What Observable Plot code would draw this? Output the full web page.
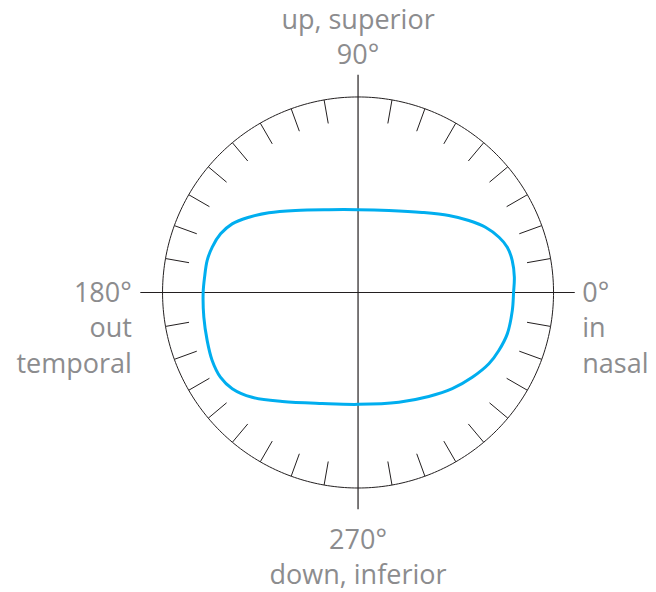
<!DOCTYPE html>
<html>
<head>
<meta charset="utf-8">
<script src="https://cdn.jsdelivr.net/npm/d3@7"></script>
<script src="https://cdn.jsdelivr.net/npm/@observablehq/plot@0.6"></script>
<style>
  body { margin: 0; background: #fff; }
  #chart svg { display: block; }
</style>
</head>
<body>
<div id="chart"></div>
<script>
// Visual field boundary: polar angle (deg, 0 = nasal/right, counter-clockwise) and eccentricity (outer circle = 90)
const fieldAngles = [0, 5.6, 11.7, 16.9, 21.4, 27.1, 33.0, 40.3, 51.3, 69.4,
  90, 109.4, 127.3, 138.2, 145.4, 151.4, 156.9, 162.7, 168.0, 174.3,
  180, 189.1, 197.7, 205.0, 211.6, 217.4, 224.7, 235.2, 252.1,
  270, 290.4, 304.2, 314.4, 323.4, 331.4, 337.6, 344.5, 353.3];
const fieldRadii = [71.6, 72.3, 72.5, 71.8, 69.7, 65.9, 60.8, 54.8, 47.2, 40.3,
  38.1, 40.4, 47.5, 55.1, 61.0, 66.0, 68.8, 70.3, 71.0, 71.0,
  71.3, 71.9, 72.9, 74.1, 74.4, 72.9, 68.6, 61.1, 53.7,
  51.5, 53.9, 57.9, 62.0, 65.5, 68.6, 70.1, 71.3, 71.5];

// Graticule
const tickAngles = [10, 20, 30, 40, 50, 60, 70, 80, 100, 110, 120, 130, 140, 150, 160, 170,
  190, 200, 210, 220, 230, 240, 250, 260, 280, 290, 300, 310, 320, 330, 340, 350];
const outerRadius = 90;
const tickInnerRadius = 79;
const axisExtent = 100;

// Direction labels
const labelAngles = [0, 90, 180, 270];
const labelTexts = ["0°\nin\nnasal", "up, superior\n90°", "180°\nout\ntemporal", "270°\ndown, inferior"];

const rad = (d) => d * Math.PI / 180;
const px = (a, r) => r * Math.cos(rad(a));
const py = (a, r) => r * Math.sin(rad(a));

const field = fieldAngles.map((a, i) => ({a, r: fieldRadii[i]}));
const ring = d3.range(0, 360, 1).map((a) => ({a, r: outerRadius}));
const ticks = tickAngles.map((a) => ({a}));
const labels = labelAngles.map((a, i) => ({a, text: labelTexts[i], x: px(a, axisExtent), y: py(a, axisExtent)}));

const textColor = "#8c8c8e";
const ink = "#231f20";
const font = "Open Sans, Lato, sans-serif";
const fs = 27;
const lh = 1.3;

const labelMark = (i, opts) => Plot.text([labels[i]], {
  x: "x", y: "y", text: "text",
  fill: textColor, fontSize: fs, fontFamily: font, lineHeight: lh,
  ...opts
});

const chart = Plot.plot({
  width: 656,
  height: 592,
  margin: 0,
  x: {type: "linear", domain: [-164.6, 137.4], axis: null},
  y: {type: "linear", domain: [-138.1, 134.4], axis: null},
  style: {background: "#fff", fontFamily: font},
  marks: [
    Plot.ruleX([0], {y1: -axisExtent, y2: axisExtent, stroke: ink, strokeWidth: 1.2}),
    Plot.ruleY([0], {x1: -axisExtent, x2: axisExtent, stroke: ink, strokeWidth: 1.2}),
    Plot.line(ring, {x: (d) => px(d.a, d.r), y: (d) => py(d.a, d.r), curve: "linear-closed", stroke: ink, strokeWidth: 1}),
    Plot.link(ticks, {
      x1: (d) => px(d.a, tickInnerRadius), y1: (d) => py(d.a, tickInnerRadius),
      x2: (d) => px(d.a, outerRadius), y2: (d) => py(d.a, outerRadius),
      stroke: ink, strokeWidth: 1
    }),
    Plot.line(field, {x: (d) => px(d.a, d.r), y: (d) => py(d.a, d.r), curve: "catmull-rom-closed", stroke: "#00aeef", strokeWidth: 3}),
    labelMark(0, {textAnchor: "start", lineAnchor: "top", dx: 7, dy: -15}),
    labelMark(1, {textAnchor: "middle", lineAnchor: "bottom", dy: -11.5}),
    labelMark(2, {textAnchor: "end", lineAnchor: "top", dx: -9, dy: -15}),
    labelMark(3, {textAnchor: "middle", lineAnchor: "top", dy: 14})
  ]
});
document.getElementById("chart").append(chart);
</script>
</body>
</html>
